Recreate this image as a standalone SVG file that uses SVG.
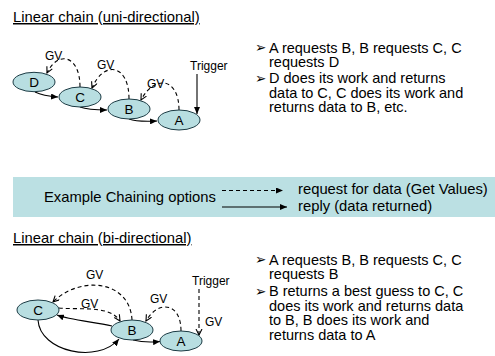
<svg xmlns="http://www.w3.org/2000/svg" width="495" height="356" viewBox="0 0 495 356">
<defs>
<style>
text{font-family:"Liberation Sans",Arial,sans-serif;fill:#000}
.t{font-size:14.8px;text-decoration:underline}
.b{font-size:14.5px}
.bl{font-size:13.5px;font-family:"DejaVu Sans",sans-serif}
.s{font-size:12px}
.n{font-size:13.5px;text-anchor:middle}
.lg{font-size:14.8px}
ellipse{fill:#b8dee1;stroke:#1c3b44;stroke-width:1}
.sol{fill:none;stroke:#000;stroke-width:1.1;marker-end:url(#fh)}
.das{fill:none;stroke:#000;stroke-width:1.1;stroke-dasharray:4 3;marker-end:url(#oh)}
</style>
<marker id="fh" markerUnits="userSpaceOnUse" markerWidth="8" markerHeight="6" refX="7" refY="3" orient="auto"><path d="M0,0 L7,3 L0,6 z" fill="#000"/></marker>
<marker id="oh" markerUnits="userSpaceOnUse" markerWidth="8" markerHeight="8" refX="6.5" refY="3.5" orient="auto"><path d="M0.5,0.5 L6.5,3.5 L0.5,6.5" fill="none" stroke="#000" stroke-width="1.1"/></marker>
</defs>
<rect width="495" height="356" fill="#fff"/>

<text class="t" x="13" y="22">Linear chain (uni-directional)</text>

<g id="connectors-upper">
<path class="sol" d="M35 92 Q43 96 58 97"/>
<path class="sol" d="M80 107 Q88 110 107 110"/>
<path class="sol" d="M129 119 Q137 122 157 121"/>
<path class="das" d="M80 87 C80 55 58 50 47 73"/>
<path class="das" d="M129 99 C129 64 104 60 92 88"/>
<path class="das" d="M179 110 C179 78 155 74 141 100"/>
<path class="sol" d="M197 74 L197 114"/>
<text class="s" x="45" y="60">GV</text>
<text class="s" x="97" y="69">GV</text>
<text class="s" x="147" y="88">GV</text>
<text class="s" x="190" y="70">Trigger</text>
</g>
<g id="node-D"><ellipse cx="34" cy="82" rx="21" ry="9.7"/><text class="n" x="34" y="87">D</text></g>
<g id="node-C"><ellipse cx="80" cy="97" rx="21" ry="10"/><text class="n" x="80" y="102">C</text></g>
<g id="node-B"><ellipse cx="129" cy="109" rx="21" ry="10"/><text class="n" x="129" y="114">B</text></g>
<g id="node-A"><ellipse cx="179" cy="120" rx="21" ry="10"/><text class="n" x="179" y="125">A</text></g>

<g id="bullets-upper">
<text class="bl" x="255" y="52">➢</text>
<text class="b" x="269" y="52.5">A requests B, B requests C, C</text>
<text class="b" x="269" y="67">requests D</text>
<text class="bl" x="255" y="82.5">➢</text>
<text class="b" x="269" y="83">D does its work and returns</text>
<text class="b" x="269" y="97.5">data to C, C does its work and</text>
<text class="b" x="269" y="112">returns data to B, etc.</text>
</g>

<g id="legend">
<rect x="13" y="177" width="482" height="40" fill="#bbe0e3"/>
<text class="lg" x="44" y="202">Example Chaining options</text>
<path class="das" style="marker-end:url(#fh)" d="M222 190.5 L283 190.5"/>
<path class="sol" d="M222 207 L287 207"/>
<text class="lg" x="298" y="194">request for data (Get Values)</text>
<text class="lg" x="298" y="210.5">reply (data returned)</text>
</g>

<text class="t" x="13" y="243">Linear chain (bi-directional)</text>

<g id="connectors-lower">
<path class="das" d="M132 320 C130 280 80 275 53 302"/>
<path class="das" d="M59 308 C80 310 110 305 120 321"/>
<path class="das" d="M181 331 C181 302 158 300 146 321"/>
<path class="das" d="M199 289 L199 335"/>
<path class="sol" d="M112 326 C95 322 70 320 57 315"/>
<path class="sol" d="M38 320 C40 352 98 364 119 339"/>
<path class="sol" d="M133 340 Q145 343 160 341.5"/>
<text class="s" x="86" y="279">GV</text>
<text class="s" x="81" y="308">GV</text>
<text class="s" x="150" y="303">GV</text>
<text class="s" x="205" y="326">GV</text>
<text class="s" x="192" y="285">Trigger</text>
</g>
<g id="node-C2"><ellipse cx="38" cy="310" rx="21" ry="10"/><text class="n" x="38" y="315">C</text></g>
<g id="node-B2"><ellipse cx="132" cy="330" rx="21" ry="10"/><text class="n" x="132" y="335">B</text></g>
<g id="node-A2"><ellipse cx="181" cy="341" rx="21" ry="10"/><text class="n" x="181" y="346">A</text></g>

<g id="bullets-lower">
<text class="bl" x="255" y="264">➢</text>
<text class="b" x="269" y="264.5">A requests B, B requests C, C</text>
<text class="b" x="269" y="279">requests B</text>
<text class="bl" x="255" y="295.5">➢</text>
<text class="b" x="269" y="296">B returns a best guess to C, C</text>
<text class="b" x="269" y="310.5">does its work and returns data</text>
<text class="b" x="269" y="325">to B, B does its work and</text>
<text class="b" x="269" y="339.5">returns data to A</text>
</g>
</svg>
